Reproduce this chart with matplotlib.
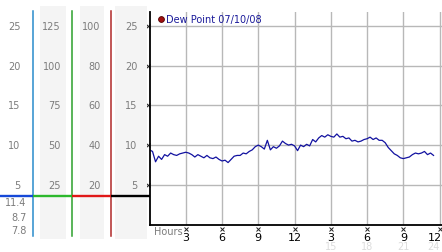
import numpy as np
import matplotlib.pyplot as plt
from matplotlib.transforms import blended_transform_factory

# dew point readings, every 15 minutes from midnight
hours = [i * 0.25 for i in range(95)]
dew = [9.4, 9.2, 7.9, 8.6, 8.2, 8.8, 8.6, 9.0, 8.8, 8.7, 8.9, 9.0,
       9.1, 9.0, 8.8, 8.5, 8.8, 8.6, 8.4, 8.7, 8.4, 8.3, 8.5, 8.2,
       8.0, 8.1, 7.8, 8.2, 8.6, 8.7, 8.7, 9.0, 8.9, 9.2, 9.4, 9.8,
       10.0, 9.8, 9.5, 10.6, 9.4, 9.8, 9.6, 9.9, 10.5, 10.2, 10.0, 10.1,
       9.9, 9.3, 10.0, 9.8, 10.1, 9.9, 10.7, 10.4, 10.9, 11.2, 11.0, 11.3,
       11.1, 11.0, 11.4, 11.0, 11.1, 10.8, 10.9, 10.5, 10.6, 10.4, 10.5, 10.7,
       10.8, 11.0, 10.7, 10.9, 10.6, 10.6, 10.3, 9.7, 9.3, 8.9, 8.7, 8.4,
       8.3, 8.4, 8.5, 8.8, 9.0, 8.9, 9.0, 9.2, 8.8, 9.0, 8.7]

y_grid = [5, 10, 15, 20, 25]
x_ticks = [3, 6, 9, 12, 15, 18, 21, 24]
x_labels = ["3", "6", "9", "12", "3", "6", "9", "12"]
x_labels_24 = ["15", "18", "21", "24"]

# side scales
col1 = ["25", "20", "15", "10", "5"]
col2 = ["125", "100", "75", "50", "25"]
col3 = ["100", "80", "60", "40", "20"]
col4 = ["25", "20", "15", "10", "5"]
level = 3.6

W, H = 442, 253
gray = "#7c7c7c"

fig = plt.figure(figsize=(W / 100, H / 100), dpi=100)

# main chart
x0, x1, ybot, ytop = 149.5, 442, 225.6, 13.3
ax = fig.add_axes([x0 / W, 1 - ybot / H, (x1 - x0) / W, (ybot - ytop) / H])
ax.set_xlim(0, 24.2)
ax.set_ylim(0, 26.7)
for v in y_grid:
    ax.axhline(v, color="#b8b8b8", lw=1, zorder=0)
for h in x_ticks:
    ax.axvline(h, color="#b8b8b8", lw=1, zorder=0)
ax.plot(hours, dew, color="#1212a0", lw=0.9)

for s in ["top", "right"]:
    ax.spines[s].set_visible(False)
for s in ["left", "bottom"]:
    ax.spines[s].set_linewidth(1.3)
    ax.spines[s].set_color("black")
ax.set_xticks([])
ax.set_yticks([])

# little tick crosses
ax.plot([-0.15] * len(y_grid), y_grid, "x", ms=2.5, mew=0.7, color="#222222", clip_on=False)
ax.plot(x_ticks, [-0.55] * len(x_ticks), "x", ms=2.5, mew=0.7, color="#222222", clip_on=False)

for i, (h, lab) in enumerate(zip(x_ticks, x_labels)):
    last = i == len(x_ticks) - 1
    ax.annotate(lab, (h, 0), xycoords=("data", "axes fraction"),
                xytext=(1.5 if last else 0, -9), textcoords="offset points",
                ha="right" if last else "center", va="center",
                fontsize=8, color="black", annotation_clip=False)
for i, (h, lab) in enumerate(zip(x_ticks[4:], x_labels_24)):
    last = i == len(x_labels_24) - 1
    ax.annotate(lab, (h, 0), xycoords=("data", "axes fraction"),
                xytext=(0 if last else 0, -15.5), textcoords="offset points",
                ha="right" if last else "center", va="center",
                fontsize=7, color="#dcdcdc", annotation_clip=False)
ax.annotate("Hours", (0, 0), xycoords="axes fraction", xytext=(3, -4.5),
            textcoords="offset points", ha="left", va="center",
            fontsize=7, color=gray, annotation_clip=False)

# legend
ax.plot([0.039], [0.968], "o", ms=4.2, color="#a01010", mec="#500000", mew=0.6,
        transform=ax.transAxes, clip_on=False)
ax.text(0.056, 0.968, "Dew Point 07/10/08", transform=ax.transAxes,
        ha="left", va="center", fontsize=7, color="#1a1a9a")

# left panel with the other scales
lax = fig.add_axes([0, 0, x0 / W, 1])
lax.set_xlim(0, x0)
lax.set_ylim(H, 0)
lax.axis("off")
tr = blended_transform_factory(lax.transData, ax.transData)

for a, b in [(40, 66), (80, 104), (115, 146.5)]:
    lax.fill_between([a, b], 7, 240, color="#f4f4f4", lw=0, zorder=0)

for x, c in [(33.3, "#2a8ccc"), (72.3, "#2ca02c"), (111.3, "#b02828")]:
    lax.plot([x, x], [12, 237], color=c, lw=1.1)

for right, labels in [(20.5, col1), (61, col2), (100.5, col3), (137.5, col4)]:
    for v, lab in zip(y_grid[::-1], labels):
        lax.text(right, v, lab, transform=tr, ha="right", va="center",
                 fontsize=7, color=gray)

segs = [(0, 33.3, "#1548d8"), (33.3, 72.3, "#2cb82c"), (72.3, 111.3, "#e01818"), (111.3, x0, "black")]
for a, b, c in segs:
    lax.plot([a, b], [level, level], color=c, lw=1.7, transform=tr, solid_capstyle="butt")

stats = [max(dew), dew[-1], min(dew)]
for lab, yy in zip(stats, [203, 218, 231]):
    lax.text(26.5, yy, f"{lab:.1f}", ha="right", va="center", fontsize=7, color=gray)

fig.savefig("out.png", dpi=100)
